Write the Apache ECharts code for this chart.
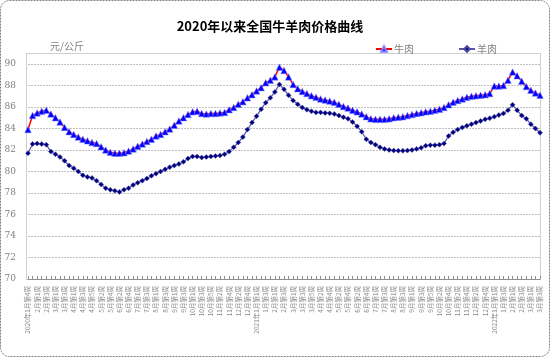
<!DOCTYPE html>
<html>
<head>
<meta charset="utf-8">
<script src="https://cdn.jsdelivr.net/npm/echarts@6/dist/echarts.min.js"></script>
<style>
html,body{margin:0;padding:0;background:#fff;}
#chart{width:550px;height:357px;}
</style>
</head>
<body>
<div id="chart"></div>
<script>
var categories = [
'2020年1月第4周','1月第5周','2月第1周','2月第2周','2月第3周','2月第4周','3月第1周','3月第2周','3月第3周','3月第4周',
'4月第1周','4月第2周','4月第3周','4月第4周','4月第5周','5月第1周','5月第2周','5月第3周','5月第4周','6月第1周',
'6月第2周','6月第3周','6月第4周','6月第5周','7月第1周','7月第2周','7月第3周','7月第4周','8月第1周','8月第2周',
'8月第3周','8月第4周','9月第1周','9月第2周','9月第3周','9月第4周','10月第1周','10月第2周','10月第3周','10月第4周',
'10月第5周','11月第1周','11月第2周','11月第3周','11月第4周','12月第1周','12月第2周','12月第3周','12月第4周','12月第5周',
'2021年1月第1周','1月第2周','1月第3周','1月第4周','2月第1周','2月第2周','2月第3周','2月第4周','3月第1周','3月第2周',
'3月第3周','3月第4周','3月第5周','4月第1周','4月第2周','4月第3周','4月第4周','5月第1周','5月第2周','5月第3周',
'5月第4周','6月第1周','6月第2周','6月第3周','6月第4周','6月第5周','7月第1周','7月第2周','7月第3周','7月第4周',
'8月第1周','8月第2周','8月第3周','8月第4周','9月第1周','9月第2周','9月第3周','9月第4周','9月第5周','10月第1周',
'10月第2周','10月第3周','10月第4周','11月第1周','11月第2周','11月第3周','11月第4周','12月第1周','12月第2周','12月第3周',
'12月第4周','12月第5周',
'2022年1月第1周','1月第2周','1月第3周','1月第4周','2月第1周','2月第2周','2月第3周','2月第4周','3月第1周','3月第2周',
'3月第3周'
];

var beef = [
83.9,85.2,85.45,85.6,85.7,85.35,85.0,84.6,84.1,83.7,
83.45,83.2,83.0,82.85,82.7,82.6,82.3,82.0,81.8,81.7,
81.7,81.75,81.9,82.1,82.35,82.55,82.8,83.0,83.3,83.45,
83.7,83.95,84.3,84.7,85.0,85.3,85.55,85.6,85.4,85.35,
85.4,85.4,85.45,85.5,85.75,85.95,86.25,86.5,86.85,87.15,
87.5,87.8,88.25,88.5,88.8,89.7,89.4,88.8,88.1,87.7,
87.45,87.25,87.05,86.9,86.75,86.65,86.55,86.45,86.25,86.05,
85.9,85.7,85.55,85.35,85.1,84.9,84.85,84.85,84.85,84.9,
85.0,85.05,85.1,85.2,85.3,85.4,85.47,85.55,85.6,85.7,
85.8,85.95,86.2,86.45,86.6,86.75,86.9,87.0,87.05,87.1,
87.15,87.25,87.95,87.95,88.0,88.5,89.25,88.9,88.4,87.9,
87.55,87.3,87.1
];

var mutton = [
81.7,82.56,82.6,82.55,82.5,81.85,81.6,81.35,81.0,80.55,
80.3,80.0,79.65,79.5,79.4,79.15,78.8,78.45,78.3,78.2,
78.1,78.3,78.45,78.75,78.95,79.15,79.35,79.6,79.8,80.0,
80.2,80.4,80.55,80.7,80.9,81.2,81.4,81.4,81.3,81.35,
81.4,81.45,81.5,81.6,81.85,82.25,82.7,83.2,83.9,84.55,
85.15,85.8,86.4,86.85,87.4,88.1,87.65,87.1,86.6,86.25,
85.95,85.75,85.6,85.5,85.5,85.45,85.42,85.35,85.2,85.05,
84.9,84.6,84.2,83.7,83.0,82.7,82.5,82.25,82.1,82.0,
81.95,81.93,81.93,81.95,82.0,82.1,82.2,82.4,82.45,82.45,
82.5,82.6,83.3,83.65,83.9,84.1,84.25,84.4,84.55,84.7,
84.85,84.95,85.1,85.25,85.4,85.7,86.2,85.7,85.2,84.9,
84.4,84.0,83.6
];

var yTicks = [70,72,74,76,78,80,82,84,86,88,90];

var chart = echarts.init(document.getElementById('chart'), null, {renderer:'canvas'});
var cjk = '"Noto Sans CJK SC", sans-serif';
chart.setOption({
  animation: false,
  backgroundColor: '#ffffff',
  title: {
    text: '2020年以来全国牛羊肉价格曲线',
    left: 265, top: 15, textAlign: 'center',
    textStyle: {fontSize: 13, fontWeight: 'bold', color: '#000', fontFamily: cjk}
  },
  legend: {
    left: 370, top: 39, itemGap: 44, itemWidth: 16, itemHeight: 7,
    textStyle: {fontSize: 10, color: '#808080', fontFamily: cjk, padding: [0,0,0,-3]},
    data: ['牛肉','羊肉']
  },
  grid: {left: 28, right: 10, top: 64, bottom: 78, containLabel: false},
  xAxis: {
    type: 'category',
    data: categories,
    boundaryGap: false,
    axisLine: {show: true, lineStyle: {color: '#909090', width: 1}},
    axisTick: {show: true, interval: 0, inside: true, length: 3, lineStyle: {color: '#909090'}},
    axisLabel: {
      interval: 1, rotate: 90, fontSize: 6.5, color: '#8a8a8a', margin: 7,
      fontFamily: cjk
    },
    splitLine: {show: false}
  },
  yAxis: {
    type: 'value',
    min: yTicks[0], max: yTicks[yTicks.length - 1], interval: 2,
    axisLine: {show: false},
    axisTick: {show: false},
    axisLabel: {fontSize: 9, color: '#808080', margin: 12, fontFamily: '"DejaVu Serif", serif'},
    splitLine: {show: true, lineStyle: {color: '#c0c0c0', type: [2,1], width: 1}}
  },
  graphic: [
    {type: 'rect', silent: true, z: -1,
     shape: {x: 0.5, y: 0.5, width: 549, height: 356, r: 9},
     style: {fill: 'none', stroke: '#808080', lineWidth: 1, lineDash: [2,1]}},
    {type: 'rect', silent: true, z: 0,
     shape: {x: 26.5, y: 53.5, width: 514, height: 226},
     style: {fill: 'none', stroke: '#a0a0a0', lineWidth: 1, lineDash: [1,1]}},
    {type: 'text', left: 50, top: 41, silent: true,
     style: {text: '元/公斤', fontSize: 10, fill: '#808080', fontFamily: cjk}}
  ],
  series: [
    {
      name: '牛肉', type: 'line', data: beef,
      symbol: 'triangle', symbolSize: 6.5, showAllSymbol: true,
      lineStyle: {color: '#ff0000', width: 1.5},
      itemStyle: {color: '#0000ff', borderColor: '#8080ff', borderWidth: 0.5},
      z: 3
    },
    {
      name: '羊肉', type: 'line', data: mutton,
      symbol: 'diamond', symbolSize: 5, showAllSymbol: true,
      lineStyle: {color: '#5858a8', width: 1.2},
      itemStyle: {color: '#000080', borderColor: '#4848a0', borderWidth: 0.5},
      z: 2
    }
  ]
});
</script>
</body>
</html>
